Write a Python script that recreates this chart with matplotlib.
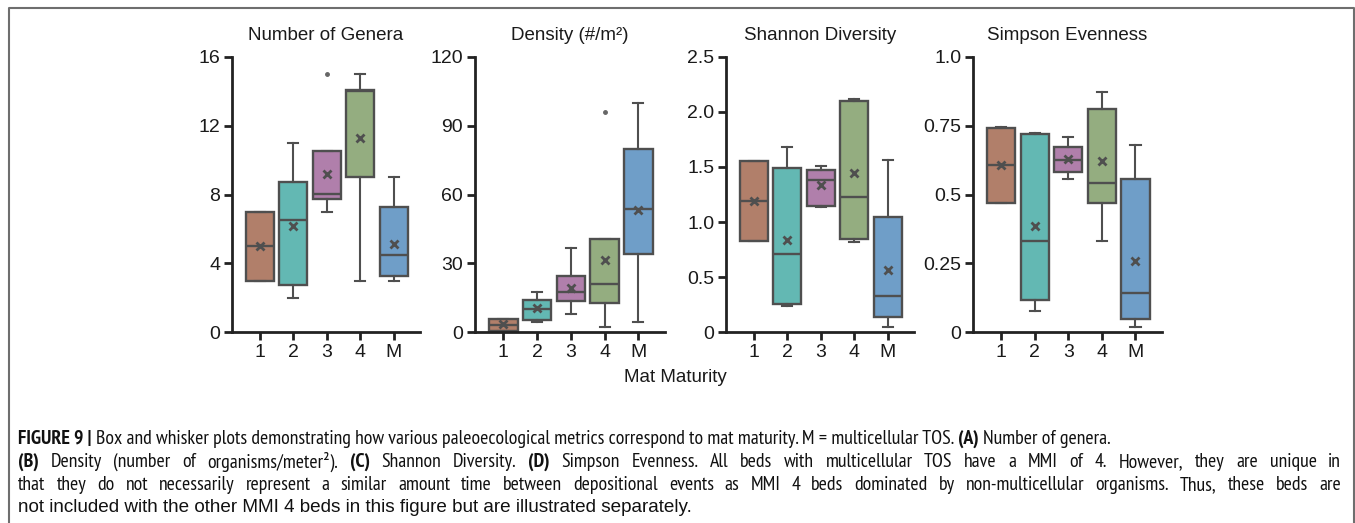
import matplotlib
matplotlib.use('Agg')
import matplotlib.pyplot as plt

plt.rcParams['font.family'] = ['Liberation Sans', 'DejaVu Sans']

groups = ['1', '2', '3', '4', 'M']
colors = ['#b17f6a', '#63b8b3', '#b07fab', '#94ad80', '#6f9ec8']

# number of genera
genera_whislo = [3, 2, 7, 3, 3]
genera_q1 = [3, 2.75, 7.75, 9, 3.25]
genera_med = [5, 6.5, 8.05, 14, 4.5]
genera_q3 = [7, 8.75, 10.5, 14.05, 7.25]
genera_whishi = [7, 11, 10.5, 15, 9]
genera_mean = [5, 6.17, 9.2, 11.3, 5.15]
genera_fliers = [[], [], [15], [], []]

# density (#/m2)
dens_whislo = [0.7, 4.5, 7.8, 2.5, 4.6]
dens_q1 = [0.7, 5.5, 13.6, 12.9, 34]
dens_med = [3.2, 10.1, 17.7, 21.1, 53.7]
dens_q3 = [5.8, 14, 24.5, 40.7, 80]
dens_whishi = [5.8, 17.7, 36.5, 40.7, 100]
dens_mean = [3.4, 10.4, 19.4, 31.6, 53.4]
dens_fliers = [[], [], [], [95.8], []]

# shannon diversity
shan_whislo = [0.83, 0.24, 1.134, 0.82, 0.051]
shan_q1 = [0.832, 0.253, 1.149, 0.844, 0.139]
shan_med = [1.19, 0.706, 1.381, 1.227, 0.329]
shan_q3 = [1.55, 1.49, 1.469, 2.10, 1.043]
shan_whishi = [1.55, 1.677, 1.505, 2.12, 1.559]
shan_mean = [1.19, 0.835, 1.336, 1.448, 0.561]

# simpson evenness
simp_whislo = [0.47, 0.078, 0.557, 0.332, 0.019]
simp_q1 = [0.47, 0.117, 0.58, 0.47, 0.049]
simp_med = [0.606, 0.332, 0.624, 0.54, 0.144]
simp_q3 = [0.742, 0.72, 0.671, 0.811, 0.557]
simp_whishi = [0.744, 0.723, 0.708, 0.872, 0.679]
simp_mean = [0.606, 0.386, 0.627, 0.62, 0.259]

panels = [
    ('Number of Genera', genera_whislo, genera_q1, genera_med, genera_q3, genera_whishi,
     genera_mean, genera_fliers, 16, [0, 4, 8, 12, 16], ['0', '4', '8', '12', '16']),
    ('Density (#/m²)', dens_whislo, dens_q1, dens_med, dens_q3, dens_whishi,
     dens_mean, dens_fliers, 120, [0, 30, 60, 90, 120], ['0', '30', '60', '90', '120']),
    ('Shannon Diversity', shan_whislo, shan_q1, shan_med, shan_q3, shan_whishi,
     shan_mean, None, 2.5, [0, 0.5, 1, 1.5, 2, 2.5], ['0', '0.5', '1.0', '1.5', '2.0', '2.5']),
    ('Simpson Evenness', simp_whislo, simp_q1, simp_med, simp_q3, simp_whishi,
     simp_mean, None, 1.0, [0, 0.25, 0.5, 0.75, 1.0], ['0', '0.25', '0.5', '0.75', '1.0']),
]

W, H = 1355, 523
fig = plt.figure(figsize=(W / 100, H / 100), dpi=100)
lefts = [232, 475, 726, 973]
rights = [420, 665, 914, 1162]
top_px, bot_px = 56.7, 332.3
edge = '#4f4f4f'
spine = '#222222'

for (title, wlo, q1, med, q3, whi, mean, fl, ymax, yt, ytl), l, r in zip(panels, lefts, rights):
    ax = fig.add_axes([l / W, 1 - bot_px / H, (r - l) / W, (bot_px - top_px) / H])
    stats = []
    for i in range(5):
        stats.append(dict(whislo=wlo[i], q1=q1[i], med=med[i], q3=q3[i], whishi=whi[i],
                          mean=mean[i], fliers=(fl[i] if fl else [])))
    bp = ax.bxp(stats, positions=range(5), widths=0.84, capwidths=0.3, patch_artist=True,
                showmeans=True,
                boxprops=dict(edgecolor=edge, linewidth=1.7),
                medianprops=dict(color=edge, linewidth=1.7),
                whiskerprops=dict(color=edge, linewidth=1.5),
                capprops=dict(color=edge, linewidth=1.5),
                meanprops=dict(marker='x', markeredgecolor=edge, markersize=6, markeredgewidth=2),
                flierprops=dict(marker='o', markersize=2.5, markerfacecolor='#666666',
                                markeredgecolor='#666666'))
    for patch, c in zip(bp['boxes'], colors):
        patch.set_facecolor(c)
    ax.set_xlim(-0.84, 4.79)
    ax.set_ylim(0, ymax)
    ax.set_yticks(yt)
    ax.set_yticklabels(ytl)
    ax.set_xticks(range(5))
    ax.set_xticklabels(groups)
    ax.spines['top'].set_visible(False)
    ax.spines['right'].set_visible(False)
    for s in ['left', 'bottom']:
        ax.spines[s].set_linewidth(2)
        ax.spines[s].set_color(spine)
    ax.tick_params(axis='both', length=5.5, width=2, color=spine, labelsize=14,
                   labelcolor='#1a1a1a', pad=3)
    ax.set_title(title, fontsize=13.5, color='#1a1a1a', pad=12)

fig.text(675 / W, 1 - 377 / H, 'Mat Maturity', ha='center', va='center', fontsize=13.5,
         color='#1a1a1a')

# outer frame (open at bottom)
fig.add_artist(plt.Line2D([9 / W, 9 / W, 1353.5 / W, 1353.5 / W], [0, 1 - 8 / H, 1 - 8 / H, 0],
                          transform=fig.transFigure, color='#6e6e6e', linewidth=1.5))

# caption: bold pieces mixed in, lines 2-3 justified to the right margin
cap_lines = [
    ([('FIGURE 9 |', True), ('Box and whisker plots demonstrating how various paleoecological metrics correspond to mat maturity. M = multicellular TOS.', False),
      ('(A)', True), ('Number of genera.', False)], False),
    ([('(B)', True), ('Density (number of organisms/meter²).', False), ('(C)', True),
      ('Shannon Diversity.', False), ('(D)', True),
      ('Simpson Evenness. All beds with multicellular TOS have a MMI of 4. However, they are unique in', False)], True),
    ([('that they do not necessarily represent a similar amount time between depositional events as MMI 4 beds dominated by non-multicellular organisms. Thus, these beds are', False)], True),
    ([('not included with the other MMI 4 beds in this figure but are illustrated separately.', False)], False),
]
narrow = ['PT Sans Narrow', 'Roboto Condensed', 'Liberation Sans']
regular = ['Liberation Sans']
line_fonts = [narrow, narrow, narrow, regular]
x0, x1 = 18, 1341
line_y = [439, 462, 485, 508]
renderer = fig.canvas.get_renderer()


def text_w(s, bold, fam, size):
    t = fig.text(0, 0, s, fontsize=size, family=fam, weight='bold' if bold else 'normal')
    w = t.get_window_extent(renderer).width
    t.remove()
    return w


def natural_w(segments, fam, size):
    sp = text_w('n n', False, fam, size) - text_w('nn', False, fam, size)
    return sum(text_w(s, b, fam, size) for s, b in segments) + sp * (len(segments) - 1)


# size the condensed face so the first line ends near where it does in the figure
base = 13.0
narrow_size = 1.04 * base * 1044 / natural_w(cap_lines[0][0], narrow, base)
narrow_size = min(max(narrow_size, 10.5), 15)
line_sizes = [narrow_size, narrow_size, narrow_size, 13.6]

for (segments, justify), yy, fam, size in zip(cap_lines, line_y, line_fonts, line_sizes):
    space_w = text_w('n n', False, fam, size) - text_w('nn', False, fam, size)
    if justify:
        pieces = [(w, b) for s, b in segments for w in s.split(' ')]
        widths = [text_w(w, b, fam, size) for w, b in pieces]
        gap = (x1 - x0 - sum(widths)) / (len(pieces) - 1)
    else:
        pieces = segments
        widths = [text_w(s, b, fam, size) for s, b in pieces]
        gap = space_w
    x = x0
    for (s, b), wd in zip(pieces, widths):
        fig.text(x / W, 1 - yy / H, s, fontsize=size, family=fam,
                 weight='bold' if b else 'normal', va='center', ha='left', color='#111111')
        x += wd + gap

fig.savefig('out.png', dpi=100)
